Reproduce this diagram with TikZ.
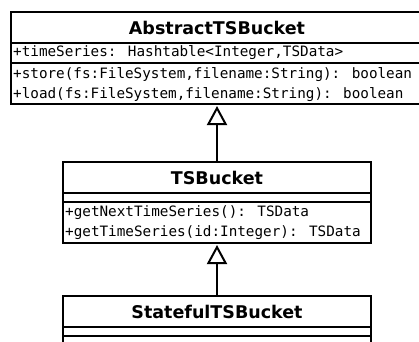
\documentclass[tikz,border=0pt]{standalone}
\usepackage{fontspec}
\setmainfont{DejaVu Sans}
\newfontfamily\monofont{DejaVu Sans Mono}
\usetikzlibrary{arrows.meta}

\tikzset{
  umlbox/.style={draw, line width=2pt, anchor=north west, inner sep=0pt, outer sep=0pt},
  classname/.style={font=\bfseries\fontsize{17.5}{20}\selectfont, inner sep=0pt},
  member/.style={font=\monofont\fontsize{14.3}{20}\selectfont, anchor=west, inner sep=0pt},
  divider/.style={line width=2pt},
  inherit/.style={line width=2pt, shorten >=2pt,
    -{Triangle[open, length=19pt, width=20pt, line width=2pt, fill=white]}}
}

\begin{document}
\begin{tikzpicture}[x=1pt, y=-1pt]
  \useasboundingbox (0,0) rectangle (419,341);
  \clip (0,0) rectangle (419,341);

  % AbstractTSBucket
  \node[umlbox, minimum width=411pt, minimum height=92pt] (abs) at (11,12) {};
  \draw[divider] ([yshift=-31pt]abs.north west) -- ([yshift=-31pt]abs.north east);
  \draw[divider] ([yshift=-51pt]abs.north west) -- ([yshift=-51pt]abs.north east);
  \node[classname] (absname) at (217,27.5) {AbstractTSBucket};
  \node[member] (absattr) at (13,53) {+timeSeries: Hashtable<Integer,TSData>};
  \node[member] (absop1) at (13,75) {+store(fs:FileSystem,filename:String): boolean};
  \node[member] (absop2) at (13,95) {+load(fs:FileSystem,filename:String): boolean};

  % TSBucket
  \node[umlbox, minimum width=308pt, minimum height=81pt] (ts) at (63,162) {};
  \draw[divider] ([yshift=-31pt]ts.north west) -- ([yshift=-31pt]ts.north east);
  \draw[divider] ([yshift=-40pt]ts.north west) -- ([yshift=-40pt]ts.north east);
  \node[classname] (tsname) at (217,177.5) {TSBucket};
  \node[member] (tsop1) at (65,213) {+getNextTimeSeries(): TSData};
  \node[member] (tsop2) at (65,233) {+getTimeSeries(id:Integer): TSData};

  % StatefulTSBucket
  \node[umlbox, minimum width=308pt, minimum height=70pt] (sts) at (63,296) {};
  \draw[divider] ([yshift=-31pt]sts.north west) -- ([yshift=-31pt]sts.north east);
  \draw[divider] ([yshift=-40pt]sts.north west) -- ([yshift=-40pt]sts.north east);
  \node[classname] (stsname) at (217,312) {StatefulTSBucket};

  % generalisations
  \draw[inherit] (ts.north) -- (ts.north |- abs.south);
  \draw[inherit] (sts.north) -- (sts.north |- ts.south);
\end{tikzpicture}
\end{document}
